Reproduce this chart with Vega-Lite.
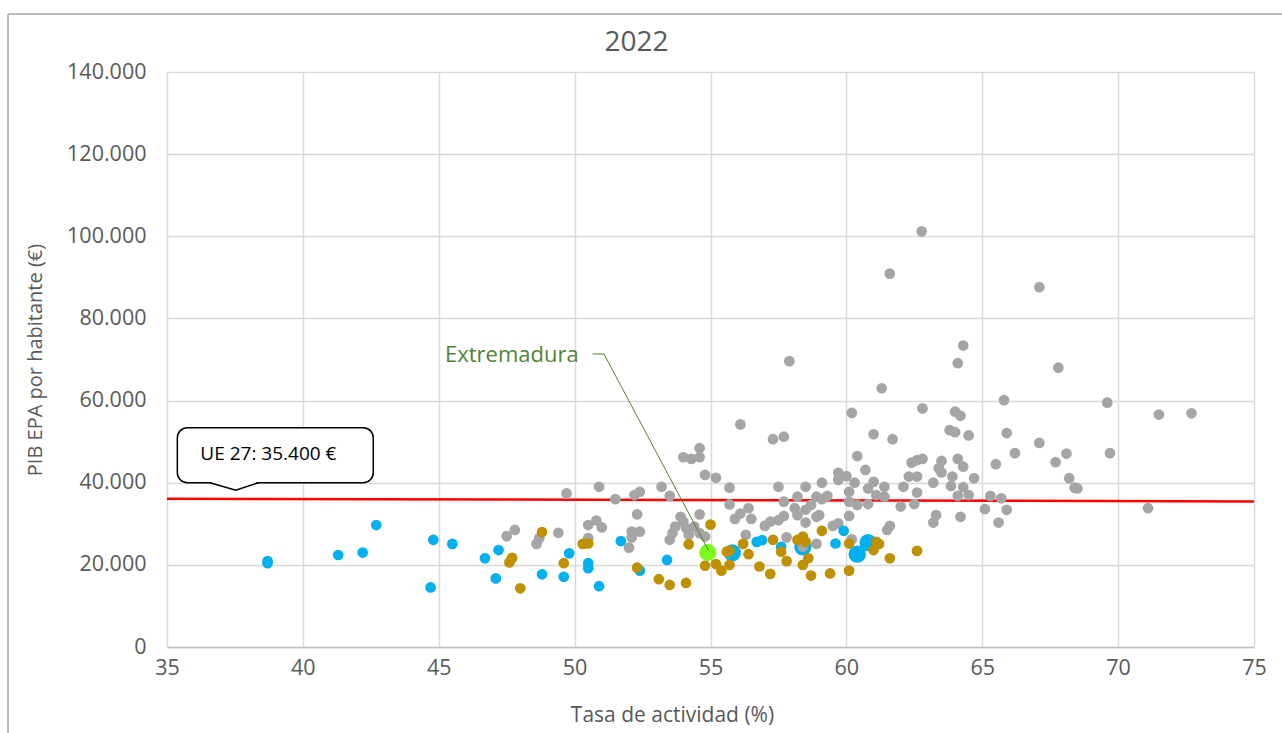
{
"$schema": "https://vega.github.io/schema/vega-lite/v6.json",
"width": 1087,
"height": 575,
"autosize": {"type": "none"},
"padding": {"left": 167, "top": 72, "right": 28, "bottom": 86},
"background": "white",
"config": {
  "locale": {"number": {"decimal": ",", "thousands": ".", "grouping": [3], "currency": ["", " €"]}},
  "view": {"stroke": null},
  "font": "Open Sans"
},
"title": {"text": "2022", "fontSize": 28, "font": "Open Sans", "fontWeight": "normal", "color": "#595959", "anchor": "middle", "frame": "group", "dx": -74, "offset": -66, "baseline": "alphabetic"},
"datasets": {
  "ue": [{"tasa": 35, "pib": 36100}, {"tasa": 75, "pib": 35450}],
  "regiones": [
    {"tasa":55.8,"pib":22900,"grupo":"Destacadas"},{"tasa":58.4,"pib":24400,"grupo":"Destacadas"},{"tasa":60.4,"pib":22600,"grupo":"Destacadas"},{"tasa":60.8,"pib":25400,"grupo":"Destacadas"},
    {"tasa":47.5,"pib":27000,"grupo":"UE"},{"tasa":47.8,"pib":28500,"grupo":"UE"},{"tasa":48.6,"pib":25100,"grupo":"UE"},{"tasa":48.7,"pib":26500,"grupo":"UE"},{"tasa":49.4,"pib":27800,"grupo":"UE"},{"tasa":49.7,"pib":37400,"grupo":"UE"},{"tasa":50.5,"pib":29700,"grupo":"UE"},{"tasa":50.8,"pib":30800,"grupo":"UE"},{"tasa":51.0,"pib":29100,"grupo":"UE"},{"tasa":50.5,"pib":26500,"grupo":"UE"},{"tasa":50.9,"pib":39000,"grupo":"UE"},{"tasa":51.5,"pib":36000,"grupo":"UE"},{"tasa":52.0,"pib":24200,"grupo":"UE"},{"tasa":52.1,"pib":28100,"grupo":"UE"},{"tasa":52.4,"pib":28100,"grupo":"UE"},{"tasa":52.1,"pib":26700,"grupo":"UE"},{"tasa":52.3,"pib":32300,"grupo":"UE"},{"tasa":52.2,"pib":37000,"grupo":"UE"},{"tasa":52.4,"pib":37800,"grupo":"UE"},{"tasa":53.2,"pib":39000,"grupo":"UE"},{"tasa":53.5,"pib":36800,"grupo":"UE"},{"tasa":53.5,"pib":26100,"grupo":"UE"},{"tasa":53.6,"pib":27700,"grupo":"UE"},{"tasa":53.7,"pib":29300,"grupo":"UE"},{"tasa":53.9,"pib":31700,"grupo":"UE"},{"tasa":54.0,"pib":30500,"grupo":"UE"},{"tasa":54.1,"pib":28900,"grupo":"UE"},{"tasa":54.2,"pib":27300,"grupo":"UE"},{"tasa":54.4,"pib":29300,"grupo":"UE"},{"tasa":54.6,"pib":27700,"grupo":"UE"},{"tasa":54.8,"pib":26900,"grupo":"UE"},{"tasa":54.6,"pib":32300,"grupo":"UE"},{"tasa":54.0,"pib":46200,"grupo":"UE"},{"tasa":54.3,"pib":45800,"grupo":"UE"},{"tasa":54.6,"pib":48400,"grupo":"UE"},{"tasa":54.6,"pib":46200,"grupo":"UE"},{"tasa":54.8,"pib":41900,"grupo":"UE"},{"tasa":55.2,"pib":41200,"grupo":"UE"},{"tasa":55.7,"pib":38800,"grupo":"UE"},{"tasa":55.7,"pib":34700,"grupo":"UE"},{"tasa":55.9,"pib":31200,"grupo":"UE"},{"tasa":56.1,"pib":32500,"grupo":"UE"},{"tasa":56.4,"pib":33800,"grupo":"UE"},{"tasa":56.5,"pib":31200,"grupo":"UE"},{"tasa":56.3,"pib":27300,"grupo":"UE"},{"tasa":56.1,"pib":54200,"grupo":"UE"},{"tasa":57.0,"pib":29500,"grupo":"UE"},{"tasa":57.2,"pib":30500,"grupo":"UE"},{"tasa":57.5,"pib":30900,"grupo":"UE"},{"tasa":57.7,"pib":31900,"grupo":"UE"},{"tasa":57.3,"pib":50600,"grupo":"UE"},{"tasa":57.7,"pib":51200,"grupo":"UE"},{"tasa":57.5,"pib":39000,"grupo":"UE"},{"tasa":57.7,"pib":35400,"grupo":"UE"},{"tasa":57.8,"pib":26700,"grupo":"UE"},{"tasa":58.1,"pib":33800,"grupo":"UE"},{"tasa":58.2,"pib":36600,"grupo":"UE"},{"tasa":58.2,"pib":32100,"grupo":"UE"},{"tasa":58.5,"pib":39000,"grupo":"UE"},{"tasa":58.5,"pib":33400,"grupo":"UE"},{"tasa":58.5,"pib":30300,"grupo":"UE"},{"tasa":58.7,"pib":34600,"grupo":"UE"},{"tasa":58.9,"pib":31700,"grupo":"UE"},{"tasa":58.9,"pib":36600,"grupo":"UE"},{"tasa":59.0,"pib":32100,"grupo":"UE"},{"tasa":59.1,"pib":40000,"grupo":"UE"},{"tasa":59.1,"pib":36000,"grupo":"UE"},{"tasa":59.3,"pib":36800,"grupo":"UE"},{"tasa":58.4,"pib":24400,"grupo":"UE"},{"tasa":58.9,"pib":25100,"grupo":"UE"},{"tasa":59.5,"pib":29500,"grupo":"UE"},{"tasa":59.7,"pib":30100,"grupo":"UE"},{"tasa":59.7,"pib":42400,"grupo":"UE"},{"tasa":60.0,"pib":41600,"grupo":"UE"},{"tasa":59.7,"pib":40700,"grupo":"UE"},{"tasa":60.1,"pib":37800,"grupo":"UE"},{"tasa":60.1,"pib":35400,"grupo":"UE"},{"tasa":60.1,"pib":31900,"grupo":"UE"},{"tasa":60.2,"pib":57000,"grupo":"UE"},{"tasa":60.4,"pib":46500,"grupo":"UE"},{"tasa":60.3,"pib":40000,"grupo":"UE"},{"tasa":60.4,"pib":34600,"grupo":"UE"},{"tasa":60.2,"pib":26200,"grupo":"UE"},{"tasa":60.7,"pib":43100,"grupo":"UE"},{"tasa":61.0,"pib":51800,"grupo":"UE"},{"tasa":60.8,"pib":38600,"grupo":"UE"},{"tasa":61.0,"pib":40200,"grupo":"UE"},{"tasa":61.1,"pib":37000,"grupo":"UE"},{"tasa":61.4,"pib":36600,"grupo":"UE"},{"tasa":61.4,"pib":39000,"grupo":"UE"},{"tasa":60.8,"pib":34800,"grupo":"UE"},{"tasa":61.7,"pib":50600,"grupo":"UE"},{"tasa":61.5,"pib":28500,"grupo":"UE"},{"tasa":61.6,"pib":29500,"grupo":"UE"},{"tasa":62.0,"pib":34200,"grupo":"UE"},{"tasa":61.3,"pib":63000,"grupo":"UE"},{"tasa":62.8,"pib":58100,"grupo":"UE"},{"tasa":64.0,"pib":57300,"grupo":"UE"},{"tasa":64.2,"pib":56300,"grupo":"UE"},{"tasa":63.8,"pib":52800,"grupo":"UE"},{"tasa":64.0,"pib":52300,"grupo":"UE"},{"tasa":64.5,"pib":51500,"grupo":"UE"},{"tasa":65.8,"pib":60100,"grupo":"UE"},{"tasa":65.9,"pib":52100,"grupo":"UE"},{"tasa":66.2,"pib":47200,"grupo":"UE"},{"tasa":65.5,"pib":44500,"grupo":"UE"},{"tasa":67.1,"pib":49700,"grupo":"UE"},{"tasa":67.7,"pib":45000,"grupo":"UE"},{"tasa":68.1,"pib":47100,"grupo":"UE"},{"tasa":68.2,"pib":41100,"grupo":"UE"},{"tasa":68.4,"pib":38800,"grupo":"UE"},{"tasa":68.5,"pib":38600,"grupo":"UE"},{"tasa":69.6,"pib":59500,"grupo":"UE"},{"tasa":69.7,"pib":47200,"grupo":"UE"},{"tasa":71.1,"pib":33800,"grupo":"UE"},{"tasa":71.5,"pib":56600,"grupo":"UE"},{"tasa":72.7,"pib":56900,"grupo":"UE"},{"tasa":62.4,"pib":44900,"grupo":"UE"},{"tasa":62.6,"pib":45500,"grupo":"UE"},{"tasa":62.8,"pib":45800,"grupo":"UE"},{"tasa":62.3,"pib":41500,"grupo":"UE"},{"tasa":62.6,"pib":41500,"grupo":"UE"},{"tasa":63.5,"pib":45300,"grupo":"UE"},{"tasa":63.4,"pib":43500,"grupo":"UE"},{"tasa":63.5,"pib":42500,"grupo":"UE"},{"tasa":64.1,"pib":45800,"grupo":"UE"},{"tasa":64.3,"pib":43900,"grupo":"UE"},{"tasa":63.9,"pib":41500,"grupo":"UE"},{"tasa":64.7,"pib":41100,"grupo":"UE"},{"tasa":63.2,"pib":40000,"grupo":"UE"},{"tasa":62.1,"pib":39000,"grupo":"UE"},{"tasa":63.85,"pib":39200,"grupo":"UE"},{"tasa":64.3,"pib":38900,"grupo":"UE"},{"tasa":62.6,"pib":37600,"grupo":"UE"},{"tasa":64.1,"pib":36800,"grupo":"UE"},{"tasa":64.5,"pib":37000,"grupo":"UE"},{"tasa":65.3,"pib":36800,"grupo":"UE"},{"tasa":65.7,"pib":36200,"grupo":"UE"},{"tasa":62.5,"pib":34800,"grupo":"UE"},{"tasa":65.1,"pib":33600,"grupo":"UE"},{"tasa":65.9,"pib":33400,"grupo":"UE"},{"tasa":63.3,"pib":32100,"grupo":"UE"},{"tasa":63.2,"pib":30300,"grupo":"UE"},{"tasa":64.2,"pib":31700,"grupo":"UE"},{"tasa":65.6,"pib":30300,"grupo":"UE"},{"tasa":62.77,"pib":101200,"grupo":"UE"},{"tasa":61.6,"pib":90900,"grupo":"UE"},{"tasa":67.1,"pib":87600,"grupo":"UE"},{"tasa":57.9,"pib":69600,"grupo":"UE"},{"tasa":64.3,"pib":73400,"grupo":"UE"},{"tasa":64.1,"pib":69100,"grupo":"UE"},{"tasa":67.8,"pib":68000,"grupo":"UE"},
    {"tasa":38.7,"pib":20900,"grupo":"Otras"},{"tasa":38.7,"pib":20400,"grupo":"Otras"},{"tasa":41.3,"pib":22400,"grupo":"Otras"},{"tasa":42.2,"pib":23000,"grupo":"Otras"},{"tasa":42.7,"pib":29700,"grupo":"Otras"},{"tasa":44.7,"pib":14500,"grupo":"Otras"},{"tasa":44.8,"pib":26100,"grupo":"Otras"},{"tasa":45.5,"pib":25100,"grupo":"Otras"},{"tasa":46.7,"pib":21600,"grupo":"Otras"},{"tasa":47.1,"pib":16700,"grupo":"Otras"},{"tasa":47.2,"pib":23600,"grupo":"Otras"},{"tasa":48.8,"pib":17700,"grupo":"Otras"},{"tasa":49.6,"pib":17100,"grupo":"Otras"},{"tasa":49.8,"pib":22800,"grupo":"Otras"},{"tasa":50.5,"pib":20400,"grupo":"Otras"},{"tasa":50.5,"pib":19200,"grupo":"Otras"},{"tasa":50.9,"pib":14800,"grupo":"Otras"},{"tasa":51.7,"pib":25800,"grupo":"Otras"},{"tasa":52.4,"pib":18600,"grupo":"Otras"},{"tasa":53.4,"pib":21200,"grupo":"Otras"},{"tasa":56.7,"pib":25600,"grupo":"Otras"},{"tasa":56.9,"pib":26000,"grupo":"Otras"},{"tasa":57.6,"pib":24400,"grupo":"Otras"},{"tasa":59.6,"pib":25200,"grupo":"Otras"},{"tasa":59.9,"pib":28300,"grupo":"Otras"},
    {"tasa":47.6,"pib":20600,"grupo":"España"},{"tasa":47.7,"pib":21700,"grupo":"España"},{"tasa":48.0,"pib":14300,"grupo":"España"},{"tasa":48.8,"pib":28000,"grupo":"España"},{"tasa":49.6,"pib":20400,"grupo":"España"},{"tasa":50.3,"pib":25100,"grupo":"España"},{"tasa":50.5,"pib":25200,"grupo":"España"},{"tasa":52.3,"pib":19300,"grupo":"España"},{"tasa":53.1,"pib":16500,"grupo":"España"},{"tasa":53.5,"pib":15100,"grupo":"España"},{"tasa":54.1,"pib":15600,"grupo":"España"},{"tasa":54.2,"pib":25000,"grupo":"España"},{"tasa":55.0,"pib":29800,"grupo":"España"},{"tasa":54.8,"pib":19800,"grupo":"España"},{"tasa":55.2,"pib":20200,"grupo":"España"},{"tasa":55.4,"pib":18600,"grupo":"España"},{"tasa":55.6,"pib":23200,"grupo":"España"},{"tasa":55.7,"pib":23400,"grupo":"España"},{"tasa":55.7,"pib":20000,"grupo":"España"},{"tasa":56.2,"pib":25100,"grupo":"España"},{"tasa":56.4,"pib":22600,"grupo":"España"},{"tasa":56.8,"pib":19600,"grupo":"España"},{"tasa":57.2,"pib":17800,"grupo":"España"},{"tasa":57.3,"pib":26100,"grupo":"España"},{"tasa":57.6,"pib":23200,"grupo":"España"},{"tasa":57.8,"pib":20900,"grupo":"España"},{"tasa":58.2,"pib":26100,"grupo":"España"},{"tasa":58.4,"pib":26900,"grupo":"España"},{"tasa":58.5,"pib":25600,"grupo":"España"},{"tasa":58.6,"pib":21600,"grupo":"España"},{"tasa":58.4,"pib":20000,"grupo":"España"},{"tasa":58.7,"pib":17400,"grupo":"España"},{"tasa":59.1,"pib":28300,"grupo":"España"},{"tasa":59.4,"pib":17900,"grupo":"España"},{"tasa":60.1,"pib":18600,"grupo":"España"},{"tasa":60.1,"pib":25200,"grupo":"España"},{"tasa":61.1,"pib":25600,"grupo":"España"},{"tasa":61.2,"pib":25100,"grupo":"España"},{"tasa":61.0,"pib":23600,"grupo":"España"},{"tasa":61.6,"pib":21600,"grupo":"España"},{"tasa":62.6,"pib":23400,"grupo":"España"},
    {"tasa":54.9,"pib":23000,"grupo":"Extremadura"}
  ]
},
"layer": [
  {
    "data": {"values": [{}]},
    "mark": {"type": "rule", "stroke": "#A6A6A6", "strokeWidth": 1.5},
    "encoding": {"x": {"datum": 29.15, "type": "quantitative"}, "x2": {"datum": 76.2}, "y": {"datum": 154130, "type": "quantitative"}}
  },
  {
    "data": {"values": [{}]},
    "mark": {"type": "rule", "stroke": "#A6A6A6", "strokeWidth": 1.5},
    "encoding": {"x": {"datum": 29.15, "type": "quantitative"}, "y": {"datum": 154130, "type": "quantitative"}, "y2": {"datum": -22000}}
  },
  {
    "data": {"name": "ue"},
    "mark": {"type": "line", "stroke": "#FF0000", "strokeWidth": 2.5},
    "encoding": {
      "x": {"field": "tasa", "type": "quantitative", "scale": {"domain": [35, 75], "nice": false, "zero": false},
        "axis": {"values": [35, 40, 45, 50, 55, 60, 65, 70, 75], "title": "Tasa de actividad (%)", "grid": true, "gridColor": "#D9D9D9", "gridWidth": 1.5, "domain": true, "domainColor": "#BFBFBF", "domainWidth": 1.5, "ticks": false, "tickSize": 0, "labelPadding": 10, "labelFontSize": 21.5, "labelFont": "Open Sans", "labelColor": "#595959", "labelFlush": false, "titleFontSize": 21, "titleFont": "Open Sans", "titleColor": "#595959", "titleFontWeight": "normal", "titleX": 505, "titleY": 57, "titleBaseline": "top"}},
      "y": {"field": "pib", "type": "quantitative", "scale": {"domain": [0, 140000], "nice": false},
        "axis": {"values": [0, 20000, 40000, 60000, 80000, 100000, 120000, 140000], "format": ",d", "title": "PIB EPA por habitante (€)", "grid": true, "gridColor": "#D9D9D9", "gridWidth": 1.5, "domain": false, "ticks": false, "tickSize": 0, "labelPadding": 21, "labelFontSize": 21.5, "labelFont": "Open Sans", "labelColor": "#595959", "labelFlush": false, "titleFontSize": 20, "titleFont": "Open Sans", "titleColor": "#595959", "titleFontWeight": "normal", "titleX": -132, "titleY": 287.5, "titleBaseline": "middle", "titleAngle": 270}}
    }
  },
  {
    "data": {"name": "regiones"},
    "mark": {"type": "circle", "opacity": 1},
    "encoding": {
      "x": {"field": "tasa", "type": "quantitative"},
      "y": {"field": "pib", "type": "quantitative"},
      "color": {"field": "grupo", "type": "nominal", "scale": {"domain": ["Destacadas", "UE", "Otras", "España", "Extremadura"], "range": ["#00B0F0", "#A5A5A5", "#00B0F0", "#BF9000", "#7CF81C"]}, "legend": null},
      "size": {"field": "grupo", "type": "nominal", "scale": {"type": "ordinal", "domain": ["Destacadas", "UE", "Otras", "España", "Extremadura"], "range": [300, 115, 115, 115, 290]}, "legend": null}
    }
  },
  {
    "data": {"values": [{}]},
    "mark": {"type": "rect", "fill": "white", "stroke": "black", "strokeWidth": 1.5, "cornerRadius": 10},
    "encoding": {"x": {"datum": 35.38, "type": "quantitative"}, "x2": {"datum": 42.59}, "y": {"datum": 53400, "type": "quantitative"}, "y2": {"datum": 40000}}
  },
  {
    "data": {"values": [{}]},
    "mark": {"type": "rule", "stroke": "white", "strokeWidth": 3},
    "encoding": {"x": {"datum": 36.64, "type": "quantitative"}, "x2": {"datum": 38.3}, "y": {"datum": 40000, "type": "quantitative"}}
  },
  {
    "data": {"values": [{"px": 36.58, "py": 40000, "o": 1}, {"px": 37.53, "py": 38200, "o": 2}, {"px": 38.36, "py": 40000, "o": 3}]},
    "mark": {"type": "line", "stroke": "black", "strokeWidth": 1.5},
    "encoding": {"x": {"field": "px", "type": "quantitative"}, "y": {"field": "py", "type": "quantitative"}, "order": {"field": "o", "type": "quantitative"}}
  },
  {
    "data": {"values": [{}]},
    "mark": {"type": "text", "text": "UE 27: 35.400 €", "fontSize": 19, "font": "Open Sans", "color": "black", "align": "center", "baseline": "middle"},
    "encoding": {"x": {"datum": 38.73, "type": "quantitative"}, "y": {"datum": 46900, "type": "quantitative"}}
  },
  {
    "data": {"values": [{"lx": 50.66, "ly": 71340, "o": 1}, {"lx": 51.08, "ly": 71340, "o": 2}, {"lx": 54.92, "ly": 23600, "o": 3}]},
    "mark": {"type": "line", "stroke": "#548235", "strokeWidth": 1},
    "encoding": {"x": {"field": "lx", "type": "quantitative"}, "y": {"field": "ly", "type": "quantitative"}, "order": {"field": "o", "type": "quantitative"}}
  },
  {
    "data": {"values": [{}]},
    "mark": {"type": "text", "text": "Extremadura", "fontSize": 22, "font": "Open Sans", "color": "#548235", "align": "left", "baseline": "middle"},
    "encoding": {"x": {"datum": 45.23, "type": "quantitative"}, "y": {"datum": 71100, "type": "quantitative"}}
  }
]
}
